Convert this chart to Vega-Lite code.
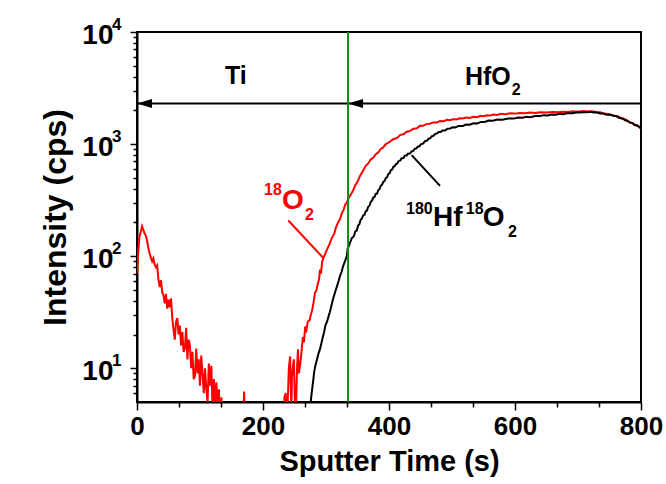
{
  "$schema": "https://vega.github.io/schema/vega-lite/v6.json",
  "width": 504,
  "height": 370,
  "autosize": {"type": "none"},
  "padding": {"left": 137, "top": 32, "right": 25, "bottom": 82},
  "background": "white",
  "config": {
    "view": {"stroke": "black", "strokeWidth": 2},
    "font": "Liberation Sans",
    "axis": {
      "grid": false,
      "domainColor": "black",
      "domainWidth": 2,
      "tickColor": "black",
      "tickWidth": 1.5,
      "labelColor": "black",
      "labelFont": "Liberation Sans",
      "labelFontWeight": "bold",
      "titleColor": "black",
      "titleFont": "Liberation Sans",
      "titleFontWeight": "bold",
      "labelOverlap": false,
      "labelFlush": false
    }
  },
  "datasets": {
    "red": [
      {"t":0,"v":70},{"t":2,"v":110},{"t":4,"v":150},{"t":6,"v":165},{"t":8,"v":185},{"t":10,"v":172},{"t":12,"v":160},{"t":14,"v":152},{"t":16,"v":138},{"t":18,"v":118},{"t":20,"v":106},{"t":22,"v":97},{"t":24,"v":90},{"t":26,"v":96},{"t":28,"v":84},{"t":30,"v":80},{"t":32,"v":83},{"t":34,"v":62},{"t":36,"v":53},{"t":38,"v":61},{"t":40,"v":48},{"t":42,"v":45},{"t":44,"v":38},{"t":46,"v":46},{"t":48,"v":34},{"t":50,"v":41},{"t":52,"v":35},{"t":54,"v":42},{"t":56,"v":28},{"t":58,"v":22},{"t":60,"v":18},{"t":62,"v":26},{"t":64,"v":28},{"t":66,"v":20},{"t":68,"v":24},{"t":70,"v":16},{"t":72,"v":21},{"t":74,"v":14},{"t":76,"v":15},{"t":78,"v":23},{"t":80,"v":12},{"t":82,"v":18},{"t":84,"v":16},{"t":86,"v":10},{"t":88,"v":14},{"t":90,"v":8},{"t":92,"v":8.5},{"t":94,"v":15},{"t":96,"v":9},{"t":98,"v":12},{"t":100,"v":7},{"t":102,"v":13},{"t":104,"v":9},{"t":106,"v":6},{"t":108,"v":10},{"t":110,"v":6.5},{"t":112,"v":5},{"t":114,"v":11},{"t":116,"v":7},{"t":118,"v":10.5},{"t":120,"v":4},{"t":122,"v":8},{"t":124,"v":5},{"t":126,"v":7.5},{"t":128,"v":4},{"t":130,"v":6.5},{"t":132,"v":3},{"t":134,"v":5.5},{"t":136,"v":3},{"t":168,"v":3},{"t":170,"v":6.2},{"t":172,"v":3},{"t":232,"v":3},{"t":234,"v":5.5},{"t":236,"v":6},{"t":238,"v":3},{"t":241,"v":10},{"t":243,"v":12.8},{"t":245,"v":4},{"t":246,"v":8.5},{"t":248,"v":11},{"t":249,"v":12},{"t":251,"v":4},{"t":252,"v":3.5},{"t":254,"v":10},{"t":255.5,"v":14.8},{"t":257,"v":9},{"t":260,"v":12},{"t":262,"v":16},{"t":263.5,"v":19},{"t":265,"v":17},{"t":267,"v":23.6},{"t":269,"v":22},{"t":271,"v":26},{"t":274,"v":27},{"t":276,"v":30},{"t":278,"v":33},{"t":280,"v":38},{"t":282.5,"v":47},{"t":285,"v":50},{"t":287,"v":57},{"t":289,"v":62},{"t":290.5,"v":76},{"t":292,"v":70},{"t":294,"v":90},{"t":295,"v":93},{"t":297,"v":100},{"t":299,"v":106},{"t":301.6,"v":115},{"t":304,"v":122},{"t":307,"v":135},{"t":310,"v":148},{"t":313,"v":158},{"t":316,"v":182},{"t":319,"v":200},{"t":322,"v":212},{"t":325,"v":240},{"t":328,"v":262},{"t":331,"v":292},{"t":333,"v":300},{"t":336,"v":330},{"t":339,"v":352},{"t":343,"v":385},{"t":346,"v":425},{"t":350,"v":462},{"t":354,"v":520},{"t":359,"v":580},{"t":363,"v":640},{"t":367,"v":672},{"t":371,"v":728},{"t":375,"v":755},{"t":379,"v":812},{"t":383,"v":840},{"t":387,"v":910},{"t":390,"v":925},{"t":395,"v":1000},{"t":400,"v":1035},{"t":406,"v":1100},{"t":413,"v":1135},{"t":418,"v":1210},{"t":423,"v":1225},{"t":428,"v":1290},{"t":433,"v":1305},{"t":438,"v":1365},{"t":444,"v":1385},{"t":449,"v":1455},{"t":454,"v":1455},{"t":460,"v":1515},{"t":465,"v":1520},{"t":470,"v":1560},{"t":476,"v":1555},{"t":481,"v":1610},{"t":487,"v":1600},{"t":492,"v":1645},{"t":497,"v":1635},{"t":502,"v":1675},{"t":507,"v":1660},{"t":512,"v":1700},{"t":517,"v":1690},{"t":522,"v":1725},{"t":528,"v":1710},{"t":534,"v":1755},{"t":540,"v":1740},{"t":545,"v":1790},{"t":550,"v":1775},{"t":555,"v":1810},{"t":560,"v":1800},{"t":566,"v":1835},{"t":571,"v":1820},{"t":578,"v":1860},{"t":585,"v":1845},{"t":592,"v":1880},{"t":600,"v":1870},{"t":608,"v":1895},{"t":616,"v":1880},{"t":624,"v":1910},{"t":632,"v":1895},{"t":640,"v":1925},{"t":650,"v":1910},{"t":660,"v":1935},{"t":668,"v":1920},{"t":676,"v":1940},{"t":684,"v":1935},{"t":692,"v":1960},{"t":700,"v":1945},{"t":708,"v":1970},{"t":715,"v":1955},{"t":722,"v":1960},{"t":729,"v":1930},{"t":735,"v":1920},{"t":742,"v":1870},{"t":749,"v":1850},{"t":756,"v":1800},{"t":763,"v":1770},{"t":770,"v":1690},{"t":776,"v":1650},{"t":782,"v":1565},{"t":787,"v":1540},{"t":791,"v":1480},{"t":795,"v":1460},{"t":798,"v":1400},{"t":800,"v":1385}
    ],
    "black": [
      {"t":272,"v":3},{"t":274,"v":3.5},{"t":276,"v":5.2},{"t":278,"v":6.5},{"t":280,"v":8},{"t":281,"v":9.1},{"t":283,"v":10.5},{"t":285.7,"v":12},{"t":288,"v":13.5},{"t":290.5,"v":14.8},{"t":293,"v":17},{"t":295,"v":19},{"t":297,"v":21},{"t":299,"v":24},{"t":301.6,"v":26},{"t":304,"v":29},{"t":306,"v":31.6},{"t":308.5,"v":36},{"t":311,"v":41},{"t":314,"v":47},{"t":317.5,"v":54},{"t":320,"v":60},{"t":322,"v":66},{"t":325,"v":73},{"t":327,"v":81},{"t":330,"v":90},{"t":333,"v":100},{"t":334.5,"v":118},{"t":336,"v":122},{"t":338,"v":131},{"t":341,"v":145},{"t":344,"v":150},{"t":346.5,"v":166},{"t":349,"v":170},{"t":351,"v":188},{"t":353,"v":193},{"t":355,"v":211},{"t":357,"v":217},{"t":359,"v":231},{"t":361,"v":234},{"t":363,"v":251},{"t":365,"v":255},{"t":367,"v":276},{"t":369,"v":282},{"t":371,"v":306},{"t":373,"v":313},{"t":375,"v":334},{"t":377,"v":338},{"t":379,"v":360},{"t":381,"v":362},{"t":383,"v":389},{"t":385,"v":396},{"t":387,"v":425},{"t":389,"v":435},{"t":391,"v":460},{"t":393,"v":470},{"t":395,"v":498},{"t":397,"v":506},{"t":399,"v":541},{"t":401,"v":549},{"t":403,"v":585},{"t":405,"v":594},{"t":407,"v":627},{"t":409,"v":634},{"t":411,"v":663},{"t":413,"v":668},{"t":415,"v":703},{"t":418,"v":713},{"t":420,"v":748},{"t":423,"v":752},{"t":425,"v":789},{"t":428,"v":792},{"t":430,"v":821},{"t":433,"v":822},{"t":436,"v":864},{"t":438,"v":862},{"t":441,"v":910},{"t":443,"v":911},{"t":446,"v":950},{"t":448,"v":951},{"t":451,"v":1000},{"t":454,"v":1010},{"t":457,"v":1060},{"t":460,"v":1070},{"t":463,"v":1120},{"t":465,"v":1120},{"t":468,"v":1175},{"t":470,"v":1180},{"t":473,"v":1230},{"t":476,"v":1245},{"t":479,"v":1280},{"t":482,"v":1280},{"t":485,"v":1322},{"t":489,"v":1320},{"t":493,"v":1372},{"t":497,"v":1378},{"t":501,"v":1412},{"t":505,"v":1408},{"t":511,"v":1452},{"t":517,"v":1448},{"t":522,"v":1494},{"t":528,"v":1488},{"t":534,"v":1533},{"t":540,"v":1528},{"t":546,"v":1578},{"t":552,"v":1578},{"t":558,"v":1622},{"t":565,"v":1618},{"t":572,"v":1658},{"t":580,"v":1648},{"t":589,"v":1692},{"t":598,"v":1688},{"t":605,"v":1728},{"t":612,"v":1718},{"t":618,"v":1752},{"t":624,"v":1740},{"t":632,"v":1782},{"t":640,"v":1778},{"t":646,"v":1812},{"t":652,"v":1800},{"t":658,"v":1837},{"t":665,"v":1828},{"t":670,"v":1862},{"t":676,"v":1850},{"t":683,"v":1887},{"t":690,"v":1880},{"t":698,"v":1917},{"t":705,"v":1910},{"t":710,"v":1937},{"t":715,"v":1920},{"t":720,"v":1942},{"t":725,"v":1912},{"t":730,"v":1915},{"t":735,"v":1875},{"t":740,"v":1875},{"t":745,"v":1830},{"t":750,"v":1835},{"t":756,"v":1790},{"t":761,"v":1770},{"t":766,"v":1710},{"t":771,"v":1690},{"t":775,"v":1630},{"t":779,"v":1610},{"t":782,"v":1560},{"t":786,"v":1540},{"t":790,"v":1480},{"t":794,"v":1465},{"t":798,"v":1410},{"t":800,"v":1395}
    ]
  },
  "layer": [
    {
      "data": {"name": "red"},
      "mark": {"type": "line", "color": "#ff0000", "strokeWidth": 2, "clip": true},
      "encoding": {
        "x": {
          "field": "t", "type": "quantitative",
          "scale": {"domain": [0, 800], "nice": false},
          "axis": {
            "values": [0,33.333,66.667,100,133.333,166.667,200,233.333,266.667,300,333.333,366.667,400,433.333,466.667,500,533.333,566.667,600,633.333,666.667,700,733.333,766.667,800],
            "labelExpr": "datum.value % 200 == 0 ? datum.label : ''",
            "tickSize": {"condition": {"test": "datum.value % 200 == 0", "value": 8}, "value": 5},
            "labelFontSize": 26,
            "labelPadding": 3,
            "title": "Sputter Time (s)",
            "titleFontSize": 29,
            "titlePadding": 8
          }
        },
        "y": {
          "field": "v", "type": "quantitative",
          "scale": {"type": "log", "domain": [5, 10000], "nice": false},
          "axis": {
            "values": [6,7,8,9,10,20,30,40,50,60,70,80,90,100,200,300,400,500,600,700,800,900,1000,2000,3000,4000,5000,6000,7000,8000,9000,10000],
            "labelExpr": "datum.value == 10 || datum.value == 100 || datum.value == 1000 || datum.value == 10000 ? '10' : ''",
            "tickSize": {"condition": {"test": "datum.value == 10 || datum.value == 100 || datum.value == 1000 || datum.value == 10000", "value": 7}, "value": 4},
            "labelFontSize": 28,
            "labelPadding": 17,
            "labelOffset": 3,
            "title": "Intensity (cps)",
            "titleFontSize": 32,
            "titlePadding": 9
          }
        }
      }
    },
    {
      "data": {"name": "black"},
      "mark": {"type": "line", "color": "#000000", "strokeWidth": 2, "clip": true},
      "encoding": {
        "x": {"field": "t", "type": "quantitative"},
        "y": {"field": "v", "type": "quantitative"}
      }
    },
    {
      "data": {"values": [{"t": 0, "v": 10, "e": "1"}, {"t": 0, "v": 100, "e": "2"}, {"t": 0, "v": 1000, "e": "3"}, {"t": 0, "v": 10000, "e": "4"}]},
      "mark": {"type": "text", "align": "left", "baseline": "middle", "dx": -25, "dy": -7, "font": "Liberation Sans", "fontWeight": "bold", "fontSize": 17, "color": "black"},
      "encoding": {
        "x": {"field": "t", "type": "quantitative"},
        "y": {"field": "v", "type": "quantitative"},
        "text": {"field": "e"}
      }
    },
    {
      "data": {"values": [{"t": 0, "t2": 800, "v": 2300}]},
      "mark": {"type": "rule", "color": "black", "strokeWidth": 2},
      "encoding": {
        "x": {"field": "t", "type": "quantitative"},
        "x2": {"field": "t2"},
        "y": {"field": "v", "type": "quantitative"}
      }
    },
    {
      "data": {"values": [{"t": 0, "v": 2300}, {"t": 335, "v": 2300}]},
      "mark": {"type": "point", "shape": "M0,0L2,-0.6L2,0.6Z", "filled": true, "color": "black", "opacity": 1, "size": 225},
      "encoding": {
        "x": {"field": "t", "type": "quantitative"},
        "y": {"field": "v", "type": "quantitative"}
      }
    },
    {
      "data": {"values": [{"t": 335}]},
      "mark": {"type": "rule", "color": "#108a10", "strokeWidth": 2},
      "encoding": {
        "x": {"field": "t", "type": "quantitative"}
      }
    },
    {
      "data": {"values": [{"t": 240.2, "v": 208, "t2": 295.7, "v2": 96.4}]},
      "mark": {"type": "rule", "color": "#ff0000", "strokeWidth": 2},
      "encoding": {
        "x": {"field": "t", "type": "quantitative"},
        "x2": {"field": "t2"},
        "y": {"field": "v", "type": "quantitative"},
        "y2": {"field": "v2"}
      }
    },
    {
      "data": {"values": [{"t": 436, "v": 798, "t2": 481, "v2": 424}]},
      "mark": {"type": "rule", "color": "#000000", "strokeWidth": 2},
      "encoding": {
        "x": {"field": "t", "type": "quantitative"},
        "x2": {"field": "t2"},
        "y": {"field": "v", "type": "quantitative"},
        "y2": {"field": "v2"}
      }
    },
    {
      "data": {"values": [{"t": 139.7, "v": 3415, "text": "Ti"}, {"t": 520.6, "v": 3342, "text": "HfO"}]},
      "mark": {"type": "text", "align": "left", "baseline": "alphabetic", "font": "Liberation Sans", "fontWeight": "bold", "fontSize": 25, "color": "black"},
      "encoding": {
        "x": {"field": "t", "type": "quantitative"},
        "y": {"field": "v", "type": "quantitative"},
        "text": {"field": "text"}
      }
    },
    {
      "data": {"values": [{"t": 595, "v": 2727, "text": "2"}]},
      "mark": {"type": "text", "align": "left", "baseline": "alphabetic", "font": "Liberation Sans", "fontWeight": "bold", "fontSize": 16, "color": "black"},
      "encoding": {
        "x": {"field": "t", "type": "quantitative"},
        "y": {"field": "v", "type": "quantitative"},
        "text": {"field": "text"}
      }
    },
    {
      "data": {"values": [{"t": 230.2, "v": 264, "text": "O"}]},
      "mark": {"type": "text", "align": "left", "baseline": "alphabetic", "font": "Liberation Sans", "fontWeight": "bold", "fontSize": 28, "color": "#ff0000"},
      "encoding": {
        "x": {"field": "t", "type": "quantitative"},
        "y": {"field": "v", "type": "quantitative"},
        "text": {"field": "text"}
      }
    },
    {
      "data": {"values": [{"t": 201.6, "v": 352, "text": "18"}, {"t": 266.7, "v": 211, "text": "2"}]},
      "mark": {"type": "text", "align": "left", "baseline": "alphabetic", "font": "Liberation Sans", "fontWeight": "bold", "fontSize": 16, "color": "#ff0000"},
      "encoding": {
        "x": {"field": "t", "type": "quantitative"},
        "y": {"field": "v", "type": "quantitative"},
        "text": {"field": "text"}
      }
    },
    {
      "data": {"values": [{"t": 469.8, "v": 187, "text": "Hf"}, {"t": 549, "v": 187, "text": "O"}]},
      "mark": {"type": "text", "align": "left", "baseline": "alphabetic", "font": "Liberation Sans", "fontWeight": "bold", "fontSize": 28, "color": "black"},
      "encoding": {
        "x": {"field": "t", "type": "quantitative"},
        "y": {"field": "v", "type": "quantitative"},
        "text": {"field": "text"}
      }
    },
    {
      "data": {"values": [{"t": 427, "v": 239, "text": "180"}, {"t": 522, "v": 239, "text": "18"}, {"t": 589, "v": 149, "text": "2"}]},
      "mark": {"type": "text", "align": "left", "baseline": "alphabetic", "font": "Liberation Sans", "fontWeight": "bold", "fontSize": 16, "color": "black"},
      "encoding": {
        "x": {"field": "t", "type": "quantitative"},
        "y": {"field": "v", "type": "quantitative"},
        "text": {"field": "text"}
      }
    }
  ]
}
